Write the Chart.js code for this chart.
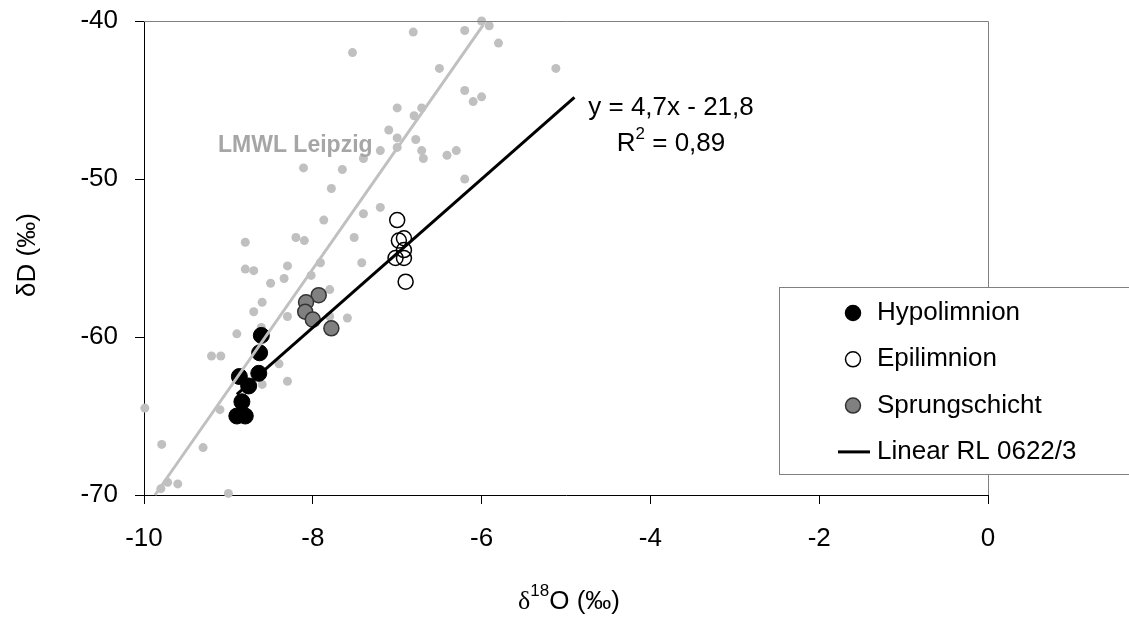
<!DOCTYPE html>
<html>
<head>
<meta charset="utf-8">
<script src="https://cdn.jsdelivr.net/npm/chart.js@4.4.1/dist/chart.umd.min.js"></script>
<style>
  body { margin: 0; background: #fff; }
  #wrap { width: 1129px; height: 621px; }
</style>
</head>
<body>
<div id="wrap"><canvas id="isoChart" width="1129" height="621"></canvas></div>
<script>
// precipitation Leipzig (grey dots)
const precipO18 = [-6.81, -7.53, -6.50, -6.20, -7.00, -6.71, -6.80, -7.10, -7.00, -6.78, -7.00, -7.20,
  -6.71, -6.69, -6.41, -6.30, -7.40, -8.11, -7.65, -7.78, -6.20, -7.20, -7.40, -7.87, -8.20, -8.10,
  -8.80, -7.51, -6.00, -5.91, -6.20, -5.80, -5.12, -6.10, -6.00, -8.80, -8.70, -8.30, -8.50, -8.34,
  -7.91, -8.02, -7.42, -8.60, -8.70, -8.30, -7.80, -7.80, -7.59, -8.61, -8.90, -9.20, -9.09, -8.40,
  -8.60, -8.30, -9.99, -9.10, -9.79, -9.30, -9.80, -9.72, -9.60, -9.00];
const precipD = [-40.7, -42.0, -43.0, -44.4, -45.5, -45.5, -46.0, -46.9, -47.4, -47.5, -48.0, -48.2,
  -48.2, -48.7, -48.5, -48.2, -48.7, -49.3, -49.4, -50.6, -50.0, -51.8, -52.2, -52.6, -53.7, -53.9,
  -54.0, -53.7, -40.0, -40.3, -40.6, -41.4, -43.0, -45.1, -44.8, -55.7, -55.8, -55.5, -56.6, -56.3,
  -55.3, -56.1, -55.3, -57.8, -58.4, -58.7, -57.0, -58.7, -58.8, -59.4, -59.8, -61.2, -61.2, -61.7,
  -63.0, -62.8, -64.5, -64.6, -66.8, -67.0, -69.6, -69.2, -69.3, -69.9];

const hypoO18 = [-8.61, -8.63, -8.87, -8.64, -8.76, -8.84, -8.90, -8.80];
const hypoD = [-59.9, -61.0, -62.5, -62.3, -63.1, -64.1, -65.0, -65.0];

const epiO18 = [-7.00, -6.92, -6.98, -6.92, -7.02, -6.92, -6.90];
const epiD = [-52.6, -53.75, -53.9, -54.5, -55.0, -55.0, -56.5];

const sprungO18 = [-7.93, -8.08, -8.09, -8.00, -7.78];
const sprungD = [-57.35, -57.8, -58.4, -58.9, -59.45];

// trend line RL 0622/3 and LMWL Leipzig (end points)
const trendO18 = [-8.9, -4.9];
const trendD = [-63.63, -44.83];
const lmwlO18 = [-9.87, -5.98];
const lmwlD = [-70.0, -40.25];

const xTicks = [-10, -8, -6, -4, -2, 0];
const yTicks = [-70, -60, -50, -40];

const FONT = "'Liberation Sans', Arial, sans-serif";

function toPoints(xs, ys) {
  return xs.map((x, i) => ({ x: x, y: ys[i] }));
}

const overlay = {
  id: 'overlay',
  afterDatasetsDraw(chart) {
    const c = chart.ctx;
    const a = chart.chartArea;
    c.save();
    // grey frame top / right
    c.strokeStyle = '#808080';
    c.lineWidth = 1;
    c.beginPath();
    c.moveTo(a.left, a.top + 0.5);
    c.lineTo(a.right + 0.5, a.top + 0.5);
    c.lineTo(a.right + 0.5, a.bottom);
    c.stroke();

    // LMWL label
    c.fillStyle = '#a6a6a6';
    c.font = 'bold 23px ' + FONT;
    c.textBaseline = 'middle';
    c.textAlign = 'left';
    c.fillText('LMWL Leipzig', 218, 146);

    // regression equation
    c.fillStyle = '#000';
    c.font = '26px ' + FONT;
    c.textAlign = 'center';
    c.fillText('y = 4,7x - 21,8', 671, 108);
    const w1 = c.measureText('R').width;
    c.font = '17px ' + FONT;
    const w2 = c.measureText('2').width;
    c.font = '26px ' + FONT;
    const w3 = c.measureText(' = 0,89').width;
    let x0 = 671 - (w1 + w2 + w3) / 2;
    c.textAlign = 'left';
    c.fillText('R', x0, 144);
    c.font = '17px ' + FONT;
    c.fillText('2', x0 + w1, 134);
    c.font = '26px ' + FONT;
    c.fillText(' = 0,89', x0 + w1 + w2, 144);
    c.restore();
  },
  afterDraw(chart) {
    const c = chart.ctx;
    c.save();
    // legend box
    c.fillStyle = '#fff';
    c.fillRect(779.5, 287.5, 360, 187);
    c.strokeStyle = '#808080';
    c.lineWidth = 1;
    c.strokeRect(779.5, 287.5, 360, 187);

    const items = chart.data.datasets.filter(d => d.legend);
    items.forEach((d, i) => {
      const y = 313 + i * 46.3;
      if (d.showLine) {
        c.strokeStyle = d.borderColor;
        c.lineWidth = d.borderWidth;
        c.beginPath();
        c.moveTo(838, y);
        c.lineTo(870, y);
        c.stroke();
      } else {
        c.beginPath();
        c.arc(853, y, 7.5, 0, Math.PI * 2);
        c.fillStyle = d.backgroundColor;
        c.fill();
        c.strokeStyle = d.borderColor;
        c.lineWidth = 1.5;
        c.stroke();
      }
      c.fillStyle = '#000';
      c.font = '26px ' + FONT;
      c.textBaseline = 'middle';
      c.textAlign = 'left';
      c.fillText(d.label, 877, y);
    });

    // axis titles
    c.fillStyle = '#000';
    c.textBaseline = 'middle';
    c.save();
    c.translate(28, 255);
    c.rotate(-Math.PI / 2);
    c.textAlign = 'center';
    c.font = '26px ' + FONT;
    c.fillText('δD (‰)', 0, 0);
    c.restore();

    c.textAlign = 'left';
    c.font = "26px 'Liberation Serif', serif";
    const d1 = c.measureText('δ').width;
    c.font = '17px ' + FONT;
    const d2 = c.measureText('18').width;
    c.font = '26px ' + FONT;
    const d3 = c.measureText('O (‰)').width;
    let tx = 569 - (d1 + d2 + d3) / 2;
    c.font = "26px 'Liberation Serif', serif";
    c.fillText('δ', tx, 602);
    c.font = '17px ' + FONT;
    c.fillText('18', tx + d1, 591);
    c.font = '26px ' + FONT;
    c.fillText('O (‰)', tx + d1 + d2, 602);
    c.restore();
  }
};

const ctx = document.getElementById('isoChart').getContext('2d');
const isoChart = new Chart(ctx, {
  type: 'scatter',
  data: {
    datasets: [
      {
        label: 'Hypolimnion',
        data: toPoints(hypoO18, hypoD),
        backgroundColor: '#000',
        borderColor: '#000',
        borderWidth: 1,
        pointRadius: 8,
        legend: true,
        order: 4
      },
      {
        label: 'Epilimnion',
        data: toPoints(epiO18, epiD),
        backgroundColor: 'rgba(255,255,255,0)',
        borderColor: '#000',
        borderWidth: 1.5,
        pointRadius: 7.5,
        legend: true,
        order: 3
      },
      {
        label: 'Sprungschicht',
        data: toPoints(sprungO18, sprungD),
        backgroundColor: '#808080',
        borderColor: '#333',
        borderWidth: 1.5,
        pointRadius: 7.5,
        legend: true,
        order: 2
      },
      {
        label: 'Linear RL 0622/3',
        data: toPoints(trendO18, trendD),
        showLine: true,
        borderColor: '#000',
        borderWidth: 3,
        pointRadius: 0,
        legend: true,
        order: 0
      },
      {
        label: 'LMWL Leipzig',
        data: toPoints(lmwlO18, lmwlD),
        showLine: true,
        borderColor: '#c0c0c0',
        borderWidth: 3,
        pointRadius: 0,
        order: 1
      },
      {
        label: 'Niederschlag',
        data: toPoints(precipO18, precipD),
        backgroundColor: '#c0c0c0',
        borderColor: '#c0c0c0',
        borderWidth: 0,
        pointRadius: 4.5,
        order: 5
      }
    ]
  },
  options: {
    responsive: false,
    animation: false,
    clip: false,
    layout: { padding: { left: 0, top: 21, right: 141, bottom: 0 } },
    plugins: {
      legend: { display: false },
      tooltip: { enabled: false }
    },
    scales: {
      x: {
        type: 'linear',
        min: xTicks[0],
        max: xTicks[xTicks.length - 1],
        afterBuildTicks(s) { s.ticks = xTicks.map(v => ({ value: v })); },
        ticks: { color: '#000', font: { size: 26, family: FONT }, padding: 19 },
        grid: { drawOnChartArea: false, drawTicks: true, tickLength: 9, color: '#000' },
        border: { color: '#000', width: 1 },
        afterFit(s) { s.height = 126; s.paddingLeft = 0; s.paddingRight = 0; }
      },
      y: {
        type: 'linear',
        min: yTicks[0],
        max: yTicks[yTicks.length - 1],
        afterBuildTicks(s) { s.ticks = yTicks.map(v => ({ value: v })); },
        ticks: { color: '#000', font: { size: 26, family: FONT }, padding: 17 },
        grid: { drawOnChartArea: false, drawTicks: true, tickLength: 9, color: '#000' },
        border: { color: '#000', width: 1 },
        afterFit(s) { s.width = 144; s.paddingTop = 0; s.paddingBottom = 0; }
      }
    }
  },
  plugins: [overlay]
});
</script>
</body>
</html>
